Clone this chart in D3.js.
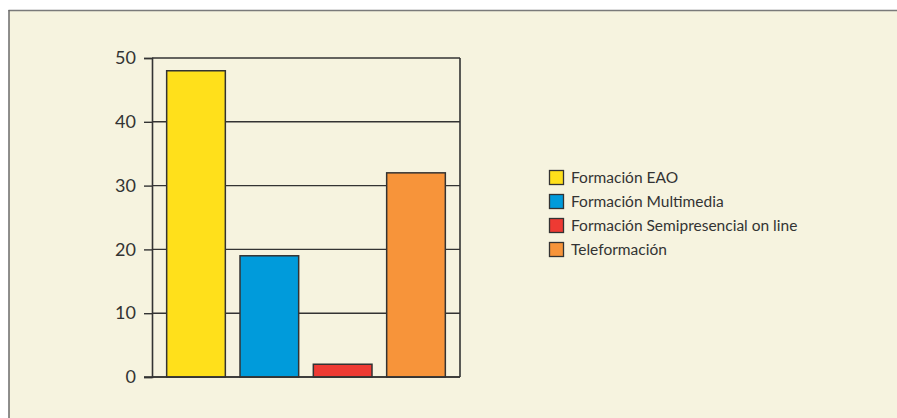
<!DOCTYPE html>
<html>
<head>
<meta charset="utf-8">
<script src="https://cdn.jsdelivr.net/npm/d3@7"></script>
<style>
  html, body { margin: 0; padding: 0; background: #ffffff; }
  svg { display: block; }
</style>
</head>
<body>
<svg id="chart" width="897" height="418"></svg>
<script>
// Data
const categories = ["Formación EAO", "Formación Multimedia", "Formación Semipresencial on line", "Teleformación"];
const values = [48, 19, 2, 32];
const colors = ["#FFE01B", "#009BDB", "#EE3A33", "#F7943A"];
const yTicks = [0, 10, 20, 30, 40, 50];

const svg = d3.select("#chart");
const W = 897, H = 418;

// Panel background with top/left rule
svg.append("rect").attr("x", 9).attr("y", 10.5).attr("width", W - 9).attr("height", H - 10.5)
  .attr("fill", "#F6F3DF");
svg.append("line").attr("x1", 8.5).attr("x2", W).attr("y1", 10.5).attr("y2", 10.5)
  .attr("stroke", "#7a7a7a").attr("stroke-width", 1.5);
svg.append("line").attr("x1", 9).attr("x2", 9).attr("y1", 10).attr("y2", H)
  .attr("stroke", "#6a6a6a").attr("stroke-width", 1.5);

const plot = { left: 152, right: 460, top: 58, bottom: 377 };

const x = d3.scaleBand().domain(categories).range([plot.left, plot.right])
  .paddingInner(0.2).paddingOuter(0.2);
const y = d3.scaleLinear().domain([0, 50]).range([plot.bottom, plot.top]);

const ink = "#333333";

// Horizontal grid lines
svg.append("g").selectAll("line").data(yTicks).join("line")
  .attr("x1", plot.left).attr("x2", plot.right)
  .attr("y1", d => y(d)).attr("y2", d => y(d))
  .attr("stroke", ink).attr("stroke-width", 1.4);

// Right frame line
svg.append("line").attr("x1", plot.right).attr("x2", plot.right)
  .attr("y1", plot.top).attr("y2", plot.bottom)
  .attr("stroke", ink).attr("stroke-width", 1.6);

// Y axis
const yAxis = d3.axisLeft(y).tickValues(yTicks).tickSize(8).tickPadding(8).tickFormat(d3.format("d"));
const gy = svg.append("g").attr("transform", `translate(${plot.left},0)`).call(yAxis);
gy.select(".domain").attr("stroke", ink).attr("stroke-width", 1.6);
gy.selectAll(".tick line").attr("stroke", ink).attr("stroke-width", 1.4);
gy.selectAll(".tick text").attr("fill", "#333").attr("font-size", 18)
  .attr("font-family", "'Lato', 'Open Sans', sans-serif");

// Bars
svg.append("g").selectAll("rect").data(values).join("rect")
  .attr("x", (d, i) => x(categories[i]))
  .attr("y", d => y(d))
  .attr("width", x.bandwidth())
  .attr("height", d => y(0) - y(d))
  .attr("fill", (d, i) => colors[i])
  .attr("stroke", ink).attr("stroke-width", 1.5);

// Baseline over bars
svg.append("line").attr("x1", plot.left - 8).attr("x2", plot.right)
  .attr("y1", y(0)).attr("y2", y(0))
  .attr("stroke", ink).attr("stroke-width", 1.6);

// Legend
const legend = svg.append("g").attr("transform", "translate(549,170)");
const rows = legend.selectAll("g").data(categories).join("g")
  .attr("transform", (d, i) => `translate(0,${i * 24})`);
rows.append("rect").attr("x", 0.5).attr("y", 0.5).attr("width", 14).attr("height", 14)
  .attr("fill", (d, i) => colors[i]).attr("stroke", ink).attr("stroke-width", 1.3);
rows.append("text").attr("x", 22).attr("y", 7.5).attr("dy", "0.35em")
  .attr("font-size", 15.5).attr("fill", "#333")
  .attr("font-family", "'Lato', 'Open Sans', sans-serif")
  .text(d => d);
</script>
</body>
</html>
